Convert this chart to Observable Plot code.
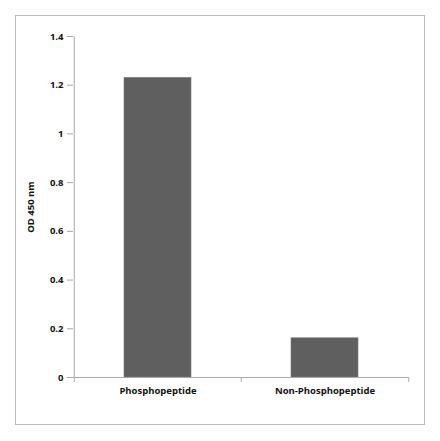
<!DOCTYPE html>
<html><head><meta charset="utf-8">
<script src="https://cdn.jsdelivr.net/npm/d3@7"></script>
<script src="https://cdn.jsdelivr.net/npm/@observablehq/plot@0.6"></script>
<style>
body{margin:0;background:#fff;}
#wrap{position:relative;width:440px;height:441px;}
#border{position:absolute;left:15px;top:15px;width:410px;height:410px;border:1px solid #bdbdbd;box-sizing:border-box;}
svg{position:absolute;left:0;top:0;}
</style>
</head><body>
<div id="wrap"><div id="border"></div></div>
<script>
const categories = ["Phosphopeptide", "Non-Phosphopeptide"];
const values = [1.23, 0.161];
const yTicks = [0, 0.2, 0.4, 0.6, 0.8, 1, 1.2, 1.4];
const yLabel = "OD 450 nm";

const data = categories.map((c, i) => ({category: c, value: values[i]}));
const font = "'Open Sans', 'Liberation Sans', sans-serif";
const step = (408 - 73) / 2;
const yMax = yTicks[yTicks.length - 1];

const chart = Plot.plot({
  width: 440, height: 441,
  marginLeft: 73, marginRight: 32, marginTop: 36, marginBottom: 64,
  style: {fontFamily: font, fontSize: "9.5px", fontWeight: "bold", color: "#111", background: "transparent"},
  x: {domain: categories, paddingInner: 0.6, paddingOuter: 0.3},
  y: {domain: [0, yMax]},
  marks: [
    Plot.barY(data, {x: "category", y: "value", fill: "#5f5f5f", stroke: "#7a7a7a", strokeWidth: 0.6}),
    Plot.ruleY([0], {stroke: "#a8a8a8"}),
    Plot.ruleX(categories.slice(0, 1), {x: d => d, y1: 0, y2: yMax, dx: -step / 2, stroke: "#a8a8a8"}),
    Plot.ruleX(categories, {x: d => d, y1: 0, y2: 0, dx: -step / 2, insetBottom: -5, stroke: "#a8a8a8"}),
    Plot.ruleX(categories.slice(-1), {x: d => d, y1: 0, y2: 0, dx: step / 2, insetBottom: -5, stroke: "#a8a8a8"}),
    Plot.axisY({ticks: yTicks, tickFormat: d => String(d), tickSize: 6, tickPadding: 4,
      stroke: "#a8a8a8", label: yLabel, labelAnchor: "center", labelOffset: 46, labelArrow: "none"}),
    Plot.axisX({tickSize: 0, tickPadding: 10, label: null})
  ]
});
document.getElementById("wrap").appendChild(chart);
</script>
</body></html>
